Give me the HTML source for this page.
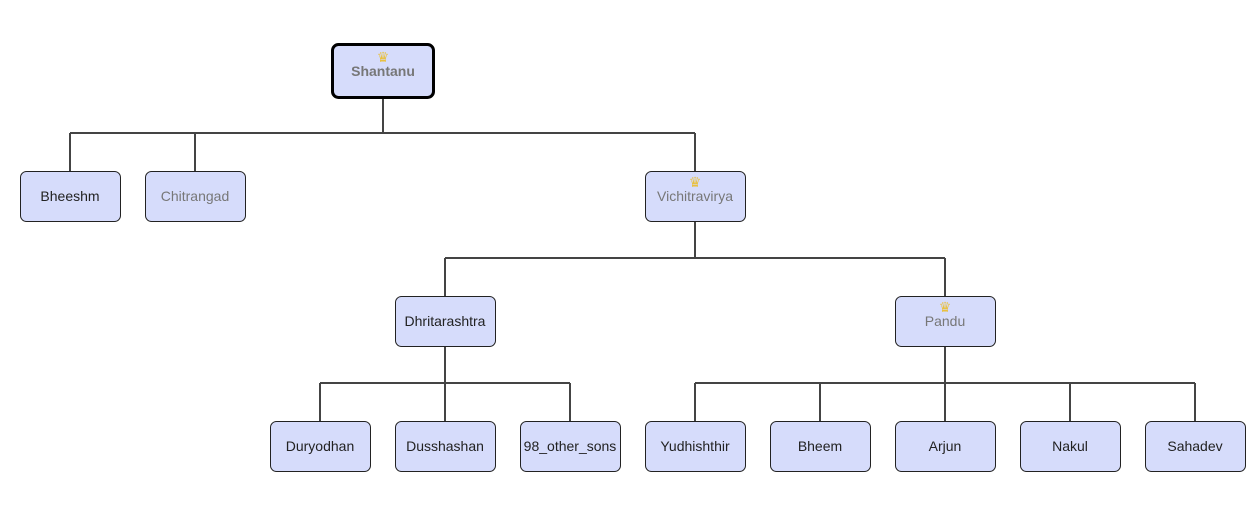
<!DOCTYPE html>
<html><head><style>
body{margin:0;background:#fff;width:1256px;height:515px;overflow:hidden}
svg text{font-family:"Liberation Sans",Arial,sans-serif;font-size:14px;text-anchor:middle}
</style></head><body>
<svg width="1256" height="515" xmlns="http://www.w3.org/2000/svg">
<g stroke="#444" stroke-width="2" fill="none">
<path d="M383 97V133M70 133H695M70 133V171M195 133V171M695 133V171"/>
<path d="M695 221V258M445 258H945M445 258V296M945 258V296"/>
<path d="M445 346V383M320 383H570M320 383V421M445 383V421M570 383V421"/>
<path d="M945 346V383M695 383H1195M695 383V421M820 383V421M945 383V421M1070 383V421M1195 383V421"/>
</g>
<rect x="332.5" y="44.5" width="101" height="53" rx="6" fill="#d6dcfb" stroke="#000" stroke-width="3"/>
<text x="383" y="62" font-size="16" fill="#e8c040">♛</text>
<text x="383" y="76" fill="#777" font-weight="bold">Shantanu</text>
<g fill="#d6dcfb" stroke="#222" stroke-width="1">
<rect x="20.5" y="171.5" width="100" height="50" rx="6"/>
<rect x="145.5" y="171.5" width="100" height="50" rx="6"/>
<rect x="645.5" y="171.5" width="100" height="50" rx="6"/>
<rect x="395.5" y="296.5" width="100" height="50" rx="6"/>
<rect x="895.5" y="296.5" width="100" height="50" rx="6"/>
<rect x="270.5" y="421.5" width="100" height="50" rx="6"/>
<rect x="395.5" y="421.5" width="100" height="50" rx="6"/>
<rect x="520.5" y="421.5" width="100" height="50" rx="6"/>
<rect x="645.5" y="421.5" width="100" height="50" rx="6"/>
<rect x="770.5" y="421.5" width="100" height="50" rx="6"/>
<rect x="895.5" y="421.5" width="100" height="50" rx="6"/>
<rect x="1020.5" y="421.5" width="100" height="50" rx="6"/>
<rect x="1145.5" y="421.5" width="100" height="50" rx="6"/>
</g>
<g fill="#222">
<text x="70" y="201">Bheeshm</text>
<text x="195" y="201" fill="#777">Chitrangad</text>
<text x="695" y="187" font-size="16" fill="#e8c040">♛</text>
<text x="695" y="201" fill="#777">Vichitravirya</text>
<text x="445" y="326">Dhritarashtra</text>
<text x="945" y="312" font-size="16" fill="#e8c040">♛</text>
<text x="945" y="326" fill="#777">Pandu</text>
<text x="320" y="451">Duryodhan</text>
<text x="445" y="451">Dusshashan</text>
<text x="570" y="451">98_other_sons</text>
<text x="695" y="451">Yudhishthir</text>
<text x="820" y="451">Bheem</text>
<text x="945" y="451">Arjun</text>
<text x="1070" y="451">Nakul</text>
<text x="1195" y="451">Sahadev</text>
</g>
</svg>
</body></html>
